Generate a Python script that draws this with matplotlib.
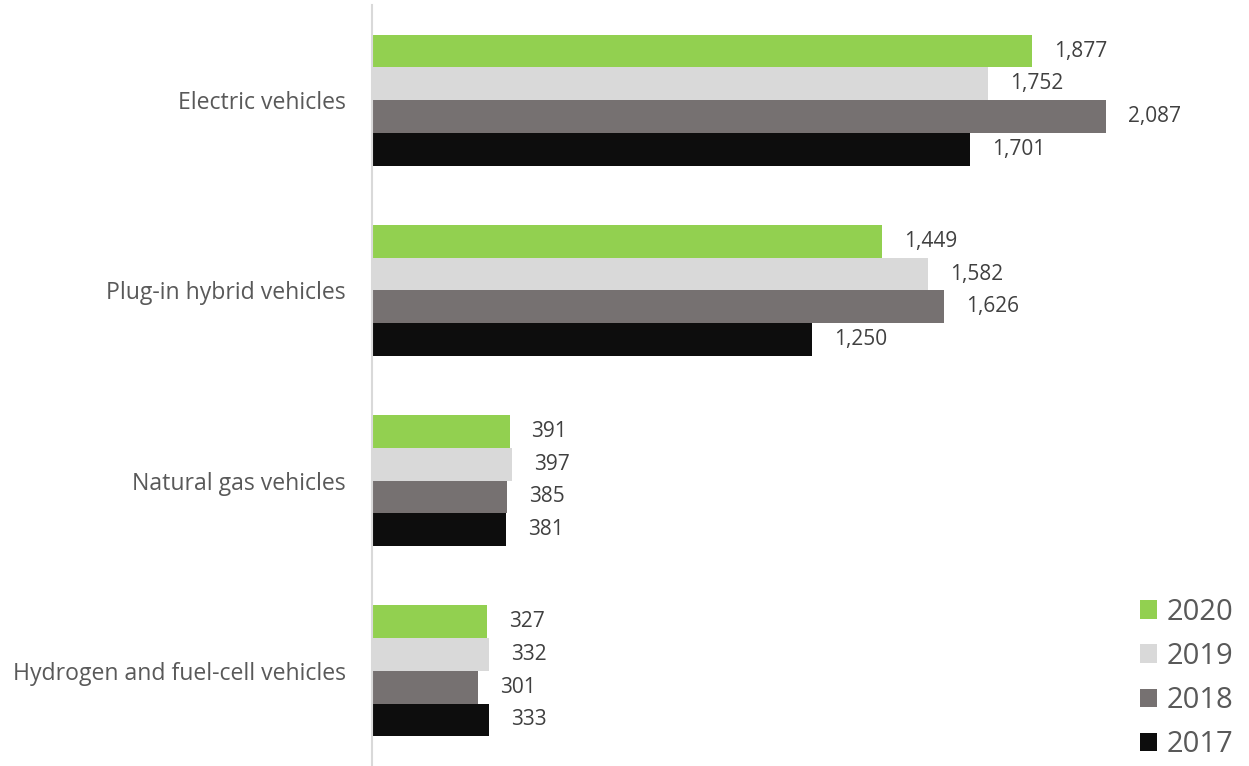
import matplotlib
matplotlib.use("Agg")
import matplotlib.pyplot as plt
from matplotlib.patches import Patch

categories = ["Electric vehicles", "Plug-in hybrid vehicles",
              "Natural gas vehicles", "Hydrogen and fuel-cell vehicles"]
years = ["2020", "2019", "2018", "2017"]
values_2020 = [1877, 1449, 391, 327]
values_2019 = [1752, 1582, 397, 332]
values_2018 = [2087, 1626, 385, 301]
values_2017 = [1701, 1250, 381, 333]
series = [values_2020, values_2019, values_2018, values_2017]
colors = ["#92D050", "#D9D9D9", "#767171", "#0D0D0D"]

plt.rcParams["font.family"] = ["Open Sans", "DejaVu Sans"]

W, H = 1249, 766
fig = plt.figure(figsize=(W / 100, H / 100), dpi=100)
left, right, top, bottom = 372, 1249, 5, 766
ax = fig.add_axes([left / W, 1 - bottom / H, (right - left) / W, (bottom - top) / H])

bar_h = 0.172
n = len(series)
for j, (vals, col) in enumerate(zip(series, colors)):
    ys = [i + (j - (n - 1) / 2) * bar_h for i in range(len(categories))]
    ax.barh(ys, vals, height=bar_h, color=col, edgecolor="none", zorder=2)
    for y, v in zip(ys, vals):
        ax.annotate(f"{v:,}", (v, y), xytext=(22, 0), textcoords="offset pixels",
                    ha="left", va="center", fontsize=15, color="#404040")

ax.set_xlim(0, 877 / (734 / 2087))
ax.set_ylim(len(categories) - 0.5, -0.5)
ax.set_yticks(range(len(categories)))
ax.set_yticklabels(categories, fontsize=16.6, color="#595959")
ax.tick_params(axis="y", length=0, pad=19)
ax.set_xticks([])
for s in ["top", "right", "bottom"]:
    ax.spines[s].set_visible(False)
ax.spines["left"].set_color("#D9D9D9")
ax.spines["left"].set_linewidth(1.5)

handles = [Patch(facecolor=c, edgecolor="none") for c in colors]
leg = ax.legend(handles, years, loc="lower right", bbox_to_anchor=(0.995, -0.0066),
                frameon=False, fontsize=21, handlelength=0.6, handleheight=0.6,
                handletextpad=0.3, labelspacing=0.52, borderaxespad=0.0)
for t in leg.get_texts():
    t.set_color("#595959")

fig.savefig("out.png", dpi=100)
